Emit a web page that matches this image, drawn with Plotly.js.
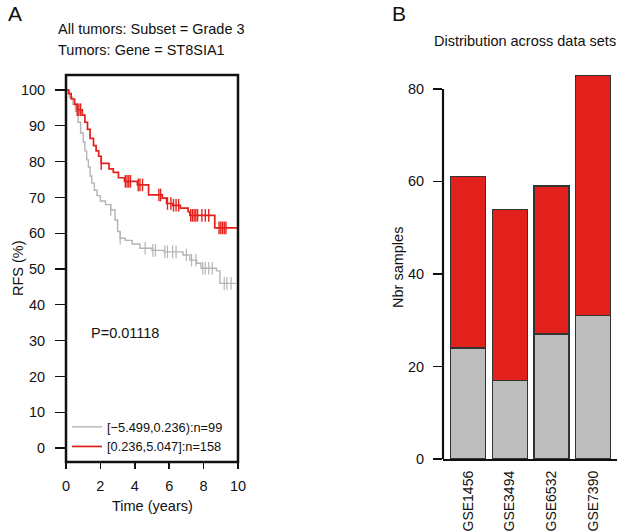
<!DOCTYPE html>
<html>
<head>
<meta charset="utf-8">
<script src="https://cdn.plot.ly/plotly-3.0.1.min.js"></script>
<style>
  html, body { margin: 0; padding: 0; background: #fff; }
  #chart { width: 622px; height: 532px; }
</style>
</head>
<body>
<div id="chart"></div>
<script>
// Panel A: Kaplan-Meier curves (step corners + censor times)
const lowTimes = [0, 0.2, 0.4, 0.55, 0.7, 0.85, 1.0, 1.1, 1.2, 1.3, 1.4, 1.5, 1.65, 1.8, 2.0, 2.3, 2.6, 2.85, 3.0, 3.15, 3.45, 3.85, 4.3, 5.0, 5.7, 6.8, 7.2, 7.6, 7.85, 8.75, 8.95, 9.9];
const lowSurv = [100, 98, 96, 94, 91, 88, 85.5, 83, 80.5, 78.5, 76, 74, 72, 70.5, 69, 68, 66.5, 63.7, 60.5, 58.6, 58, 57, 55.8, 55.2, 54.8, 53.9, 52.5, 51.6, 50.2, 49.5, 46, 46];
const lowCensor = [2.6, 3.15, 4.6, 5.05, 5.2, 5.75, 5.9, 6.2, 6.4, 7.0, 7.3, 7.55, 7.95, 8.1, 8.3, 8.5, 9.2, 9.35, 9.6];

const highTimes = [0, 0.15, 0.3, 0.5, 0.65, 0.95, 1.1, 1.25, 1.4, 1.6, 1.75, 1.9, 2.05, 2.5, 2.75, 3.05, 3.4, 4.15, 4.8, 5.6, 5.85, 6.2, 6.65, 7.1, 7.2, 8.65, 9.95];
const highSurv = [100, 99, 97.5, 96, 94.5, 93, 91, 89, 86.5, 84.5, 83, 81.5, 79.5, 78, 77, 75.5, 74.5, 73.5, 70.7, 69.8, 68.3, 67.8, 67, 66, 65, 61.5, 61.5];
const highCensor = [0.65, 0.75, 0.85, 2.05, 3.45, 3.55, 3.65, 3.75, 4.2, 4.3, 4.45, 5.4, 5.5, 5.9, 6.1, 6.25, 6.4, 6.55, 7.25, 7.35, 7.45, 7.55, 7.65, 7.9, 8.1, 8.3, 8.9, 9.0, 9.1, 9.2, 9.3];

const lowLabel = "[\u22125.499,0.236):n=99";
const highLabel = "[0.236,5.047]:n=158";
const pValue = "P=0.01118";

// Panel B: samples per data set
const dataSets = ["GSE1456", "GSE3494", "GSE6532", "GSE7390"];
const lowCounts = [24, 17, 27, 31];
const highCounts = [37, 37, 32, 52];

const W = 622, H = 532;
const fx = (p) => p / W;
const fy = (p) => 1 - p / H;
const FONT = "Liberation Sans, Arial, sans-serif";
const RED = "#e3211c";
const GREY_LINE = "#b4b4b4";

// survival value at time t from a step curve
function stepAt(times, surv, t) {
  let v = surv[0];
  for (let i = 0; i < times.length; i++) {
    if (times[i] <= t) v = surv[i];
  }
  return v;
}

const traces = [
  {
    x: lowTimes, y: lowSurv, mode: "lines", type: "scatter",
    line: { color: GREY_LINE, width: 1.4, shape: "hv" },
    name: lowLabel, xaxis: "x", yaxis: "y"
  },
  {
    x: highTimes, y: highSurv, mode: "lines", type: "scatter",
    line: { color: RED, width: 1.7, shape: "hv" },
    name: highLabel, xaxis: "x", yaxis: "y"
  },
  {
    x: lowCensor, y: lowCensor.map((t) => stepAt(lowTimes, lowSurv, t)),
    mode: "markers", type: "scatter", showlegend: false, hoverinfo: "skip",
    marker: { symbol: "line-ns", size: 9, line: { color: GREY_LINE, width: 1.2 } },
    xaxis: "x", yaxis: "y"
  },
  {
    x: highCensor, y: highCensor.map((t) => stepAt(highTimes, highSurv, t)),
    mode: "markers", type: "scatter", showlegend: false, hoverinfo: "skip",
    marker: { symbol: "line-ns", size: 9, line: { color: RED, width: 1.4 } },
    xaxis: "x", yaxis: "y"
  },
  {
    x: dataSets, y: lowCounts, type: "bar", showlegend: false,
    marker: { color: "#bebebe", line: { color: "#333", width: 1.2 } },
    xaxis: "x2", yaxis: "y2"
  },
  {
    x: dataSets, y: highCounts, type: "bar", showlegend: false,
    marker: { color: RED, line: { color: "#333", width: 1.2 } },
    xaxis: "x2", yaxis: "y2"
  }
];

const ann = (text, x, y, opts) => Object.assign({
  text: text, x: x, y: y, xref: "paper", yref: "paper",
  xanchor: "center", yanchor: "middle",
  showarrow: false, font: { family: FONT, size: 14.5, color: "#111" }
}, opts || {});

const layout = {
  width: W, height: H,
  margin: { l: 0, r: 0, t: 0, b: 0 },
  paper_bgcolor: "#fff", plot_bgcolor: "#fff",
  font: { family: FONT, size: 14.5, color: "#111" },
  barmode: "stack", bargap: 0.16,
  showlegend: true,
  legend: {
    x: fx(67), y: fy(412), xanchor: "left", yanchor: "top",
    traceorder: "normal",
    bgcolor: "rgba(0,0,0,0)", font: { family: FONT, size: 12.8, color: "#111" },
    tracegroupgap: 0, itemwidth: 30
  },
  xaxis: {
    domain: [fx(66), fx(238)], range: [0, 10], anchor: "y",
    showline: false,
    ticks: "outside", ticklen: 6, tickcolor: "#111", tickwidth: 1.5,
    ticklabelstandoff: 5,
    tickvals: [0, 2, 4, 6, 8, 10], showgrid: false, zeroline: false,
    tickfont: { size: 14.5 }
  },
  yaxis: {
    domain: [fy(462), fy(75)], range: [-3.9, 104.2], anchor: "x",
    showline: false, ticks: "outside", ticklen: 10, tickcolor: "#111", tickwidth: 1.3,
    ticklabelstandoff: 7,
    tickvals: [0, 10, 20, 30, 40, 50, 60, 70, 80, 90, 100],
    showgrid: false, zeroline: false, tickfont: { size: 14.5 }
  },
  xaxis2: {
    domain: [fx(443), fx(617)], range: [-0.6, 3.57], anchor: "y2",
    showline: true, linecolor: "#111", linewidth: 2.2,
    ticks: "", tickangle: -90, showgrid: false, zeroline: false,
    ticklabelstandoff: 4,
    tickfont: { size: 14 }
  },
  yaxis2: {
    domain: [fy(459), fy(75)], range: [0, 83], anchor: "x2",
    showline: false, ticks: "outside", ticklen: 9, tickcolor: "#111", tickwidth: 1.5,
    ticklabelstandoff: 6,
    tickvals: [0, 20, 40, 60, 80], showgrid: false, zeroline: false,
    tickfont: { size: 14.5 }
  },
  shapes: [
    { type: "rect", xref: "x domain", yref: "y domain", x0: 0, x1: 1, y0: 0, y1: 1,
      line: { color: "#111", width: 2.5 } },
    { type: "line", xref: "x2 domain", yref: "y2", x0: 0, x1: 0, y0: 0, y1: 80,
      line: { color: "#111", width: 2.2 } }
  ],
  annotations: [
    ann("A", fx(6), fy(13), { xanchor: "left", font: { family: FONT, size: 21, color: "#111" } }),
    ann("B", fx(390), fy(13), { xanchor: "left", font: { family: FONT, size: 21, color: "#111" } }),
    ann("All tumors: Subset = Grade 3", fx(56), fy(29), { xanchor: "left" }),
    ann("Tumors: Gene = ST8SIA1", fx(56), fy(50), { xanchor: "left" }),
    ann("Distribution across data sets", fx(525), fy(41)),
    ann("RFS (%)", fx(18), fy(268), { textangle: -90 }),
    ann("Time (years)", fx(152), fy(506)),
    ann("Nbr samples", fx(398), fy(268), { textangle: -90 }),
    { text: pValue, x: 1.35, y: 32, xref: "x", yref: "y", xanchor: "left", yanchor: "middle",
      showarrow: false, font: { family: FONT, size: 14.5, color: "#111" } }
  ]
};

Plotly.newPlot("chart", traces, layout, { displayModeBar: false, staticPlot: true });
</script>
</body>
</html>
